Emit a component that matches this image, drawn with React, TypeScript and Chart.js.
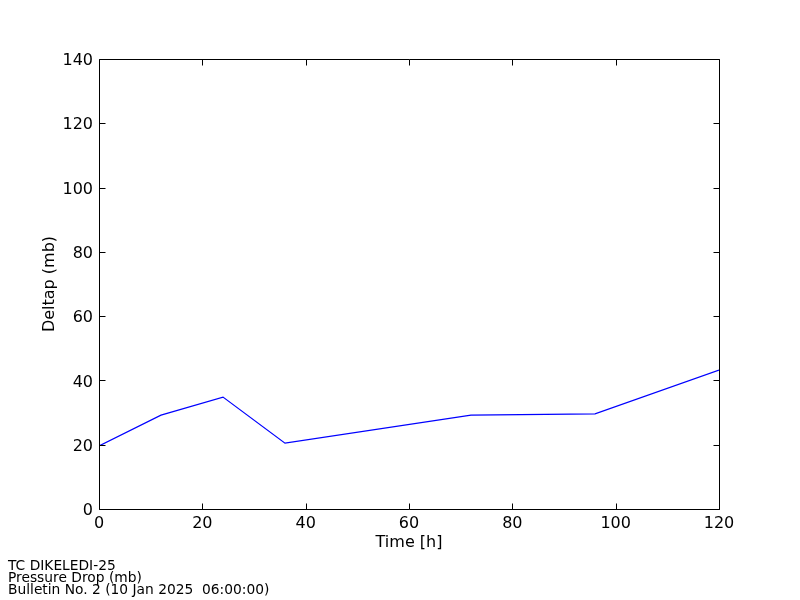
import React, { useEffect, useRef } from "react";
import { Chart, registerables } from "chart.js";

Chart.register(...registerables);

const hours = [0, 12, 24, 36, 72, 96, 120];
const deltap = [19.6, 29.2, 34.8, 20.5, 29.2, 29.6, 43.2];
const xTitle = "Time [h]";
const yTitle = "Deltap (mb)";
const footLines = ["TC DIKELEDI-25", "Pressure Drop (mb)", "Bulletin No. 2 (10 Jan 2025  06:00:00)"];

const FONT = "'DejaVu Sans', 'Liberation Sans', sans-serif";

const boxTicks = {
  id: "boxTicks",
  afterDraw(chart: any) {
    const { ctx, chartArea, scales } = chart;
    const L = Math.round(chartArea.left) + 0.5;
    const R = Math.round(chartArea.right) + 0.5;
    const T = Math.round(chartArea.top) + 0.5;
    const B = Math.round(chartArea.bottom) + 0.5;
    const len = 6;
    ctx.save();
    ctx.strokeStyle = "#000";
    ctx.lineWidth = 1;
    ctx.beginPath();
    ctx.rect(L, T, R - L, B - T);
    ctx.stroke();
    ctx.beginPath();
    for (const t of scales.x.ticks) {
      const px = Math.round(scales.x.getPixelForValue(t.value)) + 0.5;
      ctx.moveTo(px, B);
      ctx.lineTo(px, B - len);
      ctx.moveTo(px, T);
      ctx.lineTo(px, T + len);
    }
    for (const t of scales.y.ticks) {
      const py = Math.round(scales.y.getPixelForValue(t.value)) + 0.5;
      ctx.moveTo(L, py);
      ctx.lineTo(L + len, py);
      ctx.moveTo(R, py);
      ctx.lineTo(R - len, py);
    }
    ctx.stroke();
    ctx.restore();
  },
};

export default function App() {
  const ref = useRef<HTMLCanvasElement | null>(null);
  useEffect(() => {
    if (!ref.current) return;
    const chart = new Chart(ref.current, {
      type: "line",
      data: {
        datasets: [
          {
            data: hours.map((h, i) => ({ x: h, y: deltap[i] })),
            borderColor: "#0000ff",
            borderWidth: 1.2,
            pointRadius: 0,
            fill: false,
            tension: 0,
          },
        ],
      },
      options: {
        animation: false,
        responsive: false,
        devicePixelRatio: 1,
        layout: { padding: { top: 59, right: 81, left: 0, bottom: 0 } },
        plugins: { legend: { display: false }, tooltip: { enabled: false } },
        scales: {
          x: {
            type: "linear",
            min: 0,
            max: 120,
            grid: { display: false, drawTicks: false },
            border: { display: false },
            ticks: { stepSize: 20, color: "#000", padding: 5, font: { family: FONT, size: 16 }, maxRotation: 0 },
            title: { display: true, text: xTitle, color: "#000", font: { family: FONT, size: 16 }, padding: { top: 0, bottom: 48 } },
            afterFit: (s: any) => {
              s.height = 91;
            },
          },
          y: {
            type: "linear",
            min: 0,
            max: 140,
            grid: { display: false, drawTicks: false },
            border: { display: false },
            ticks: { stepSize: 20, color: "#000", padding: 6, labelOffset: 2, font: { family: FONT, size: 16 } },
            title: { display: true, text: yTitle, color: "#000", font: { family: FONT, size: 16 }, padding: { top: 40, bottom: 0 } },
            afterFit: (s: any) => {
              s.width = 99;
            },
          },
        },
      },
      plugins: [boxTicks],
    });
    return () => chart.destroy();
  }, []);
  return (
    <div style={{ position: "absolute", left: 0, top: 0, width: 800, height: 600, background: "#fff" }}>
      <canvas ref={ref} width={800} height={600} style={{ width: 800, height: 600, display: "block" }} />
      <div
        style={{
          position: "absolute",
          left: 8,
          top: 559,
          fontFamily: FONT,
          fontSize: 13.8,
          lineHeight: "12px",
          color: "#000",
          whiteSpace: "pre",
        }}
      >
        {footLines.map((l, i) => (
          <div key={i}>{l}</div>
        ))}
      </div>
    </div>
  );
}
